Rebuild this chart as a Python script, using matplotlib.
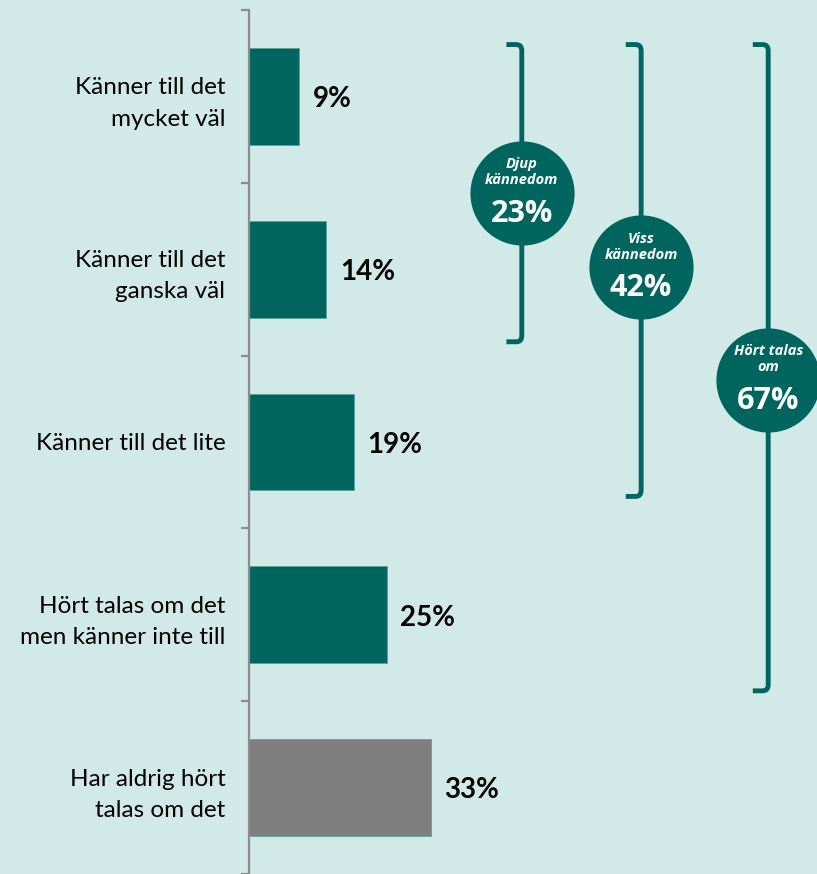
"""Kännedom: horizontal bars with grouped bracket totals."""

import matplotlib

matplotlib.use("Agg")
import matplotlib.pyplot as plt
from matplotlib.patches import PathPatch
from matplotlib.path import Path

categories = [
    "Känner till det\nmycket väl",
    "Känner till det\nganska väl",
    "Känner till det lite",
    "Hört talas om det\nmen känner inte till",
    "Har aldrig hört\ntalas om det",
]
values = [9, 14, 19, 25, 33]

group_labels = ["Djup\nkännedom", "Viss\nkännedom", "Hört talas\nom"]
group_values = [23, 42, 67]

TEAL = "#00655f"
GREY = "#7f7f7f"
BG = "#d2eae7"
AXIS = "#8c8c8c"

# bracket geometry in data units (x in %, y in category units)
bracket_x = [49.6, 71.3, 94.4]
bracket_top = -0.30
bracket_bottom = [1.42, 2.315, 3.44]
circle_y = [0.56, 0.99, 1.64]
hook = 2.8

W, H, DPI = 817, 874, 100
PX_PER_PCT = 5.5


def draw_bracket(ax, x, y0, y1):
    rx, ry = 1.0, 0.035
    verts = [
        (x - hook, y0), (x - rx, y0), (x, y0), (x, y0 + ry),
        (x, y1 - ry), (x, y1), (x - rx, y1), (x - hook, y1),
    ]
    codes = [
        Path.MOVETO, Path.LINETO, Path.CURVE3, Path.CURVE3,
        Path.LINETO, Path.CURVE3, Path.CURVE3, Path.LINETO,
    ]
    ax.add_patch(PathPatch(Path(verts, codes), fill=False, edgecolor=TEAL,
                           lw=3.5, capstyle="butt", clip_on=False))


def main() -> None:
    fig = plt.figure(figsize=(W / DPI, H / DPI), dpi=DPI, facecolor=BG)
    left = 249 / W
    ax = fig.add_axes([left, 0, 1 - left, 864 / H])
    ax.set_facecolor(BG)

    colors = [TEAL] * (len(values) - 1) + [GREY]
    y = list(range(len(values)))
    ax.barh(y, values, height=0.56, color=colors, edgecolor="#5f9f99", linewidth=0.6)
    ax.set_xlim(0, (W - 249) / PX_PER_PCT)
    ax.set_ylim(len(values) - 0.5, -0.5)

    for yi, v in zip(y, values):
        ax.annotate(f"{v}%", (v, yi), xytext=(10, -2), textcoords="offset points",
                    ha="left", va="center", fontsize=20, fontweight="bold",
                    family="Lato", color="black")

    for side in ["top", "right", "bottom"]:
        ax.spines[side].set_visible(False)
    ax.spines["left"].set_color(AXIS)
    ax.spines["left"].set_linewidth(1.6)
    ax.set_xticks([])
    ax.set_yticks(y)
    ax.set_yticklabels(categories, family="Lato", fontsize=17.5, linespacing=1.6)
    ax.tick_params(axis="y", which="major", length=0, pad=17)
    ax.set_yticks([i - 0.5 for i in range(len(values) + 1)], minor=True)
    ax.tick_params(axis="y", which="minor", length=6, width=1.6, color=AXIS)

    for gx, gb, cy, lab, gv in zip(bracket_x, bracket_bottom, circle_y,
                                   group_labels, group_values):
        draw_bracket(ax, gx, bracket_top, gb)
        ax.scatter([gx], [cy], s=(2 * 37.5) ** 2, color=TEAL, zorder=5, clip_on=False,
                   linewidths=0)
        ax.annotate(lab, (gx, cy), xytext=(0, 15), textcoords="offset points",
                    ha="center", va="center", fontsize=10.5, fontweight="bold",
                    fontstyle="italic", family="Open Sans", color="white",
                    linespacing=1.2, zorder=6)
        ax.annotate(f"{gv}%", (gx, cy), xytext=(0, -15), textcoords="offset points",
                    ha="center", va="center", fontsize=22, fontweight="bold",
                    family="Open Sans", color="white", zorder=6)

    fig.savefig("out.png", dpi=DPI, facecolor=BG)


if __name__ == "__main__":
    main()
